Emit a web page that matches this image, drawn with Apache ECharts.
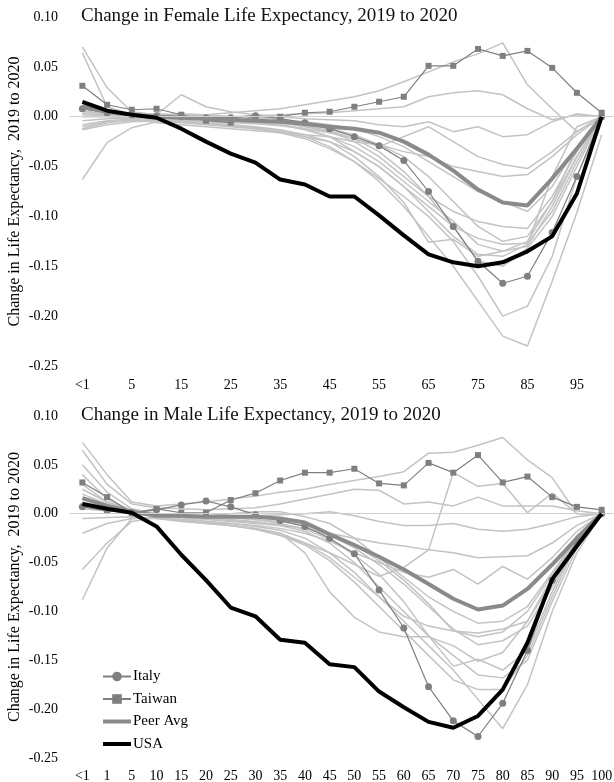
<!DOCTYPE html>
<html><head><meta charset="utf-8">
<script src="https://cdn.jsdelivr.net/npm/echarts@6/dist/echarts.min.js"></script>
<style>html,body{margin:0;padding:0;background:#fff}#c{width:614px;height:782px}</style>
</head><body><div id="c"></div>
<script>
const ageGroups = ['<1','1','5','10','15','20','25','30','35','40','45','50','55','60','65','70','75','80','85','90','95','100'];
const femaleTitle = 'Change in Female Life Expectancy, 2019 to 2020';
const maleTitle = 'Change in Male Life Expectancy, 2019 to 2020';
const yAxisName = 'Change in Life Expectancy,  2019 to 2020';

// Female
const femaleUSA    = [0.015,0.006,0.002,-0.001,-0.012,-0.025,-0.037,-0.046,-0.063,-0.068,-0.080,-0.080,-0.099,-0.119,-0.138,-0.146,-0.150,-0.146,-0.135,-0.120,-0.077,0.000];
const femalePeer   = [0.010,0.005,0.002,0.000,-0.001,-0.002,-0.003,-0.004,-0.005,-0.007,-0.010,-0.012,-0.016,-0.025,-0.038,-0.054,-0.073,-0.086,-0.089,-0.062,-0.032,0.000];
const femaleTaiwan = [0.031,0.012,0.007,0.008,0.002,-0.004,-0.006,0.000,0.000,0.004,0.005,0.010,0.015,0.020,0.051,0.051,0.068,0.061,0.066,0.049,0.024,0.004];
const femaleItaly  = [0.008,0.004,0.002,0.001,0.000,-0.001,-0.001,0.001,-0.002,-0.006,-0.012,-0.020,-0.029,-0.044,-0.075,-0.110,-0.145,-0.167,-0.160,-0.116,-0.060,0.000];
const femaleOthers = [
  [0.070,0.029,0.005,0.002,0.000,0.002,0.004,0.006,0.008,0.012,0.016,0.020,0.026,0.035,0.045,0.055,0.063,0.074,0.032,0.008,-0.015,0.000],
  [0.064,0.010,0.002,0.001,0.003,0.002,0.000,0.001,0.002,0.003,0.004,0.006,0.008,0.010,0.020,0.024,0.026,0.022,0.008,-0.003,0.002,0.000],
  [0.012,0.006,0.003,0.002,0.022,0.010,0.005,0.002,0.000,-0.002,-0.003,-0.004,-0.008,-0.010,-0.005,-0.015,-0.010,-0.020,-0.018,-0.005,0.003,0.000],
  [-0.008,-0.004,-0.002,-0.001,-0.003,-0.005,-0.006,-0.007,-0.009,-0.012,-0.016,-0.022,-0.030,-0.020,-0.010,-0.025,-0.040,-0.048,-0.052,-0.035,-0.015,0.000],
  [0.005,0.003,0.000,-0.004,-0.006,-0.008,-0.010,-0.012,-0.015,-0.018,-0.020,-0.025,-0.028,-0.035,-0.040,-0.050,-0.055,-0.060,-0.058,-0.040,-0.018,0.000],
  [0.002,0.001,0.000,-0.002,0.000,-0.002,-0.004,-0.004,-0.006,-0.010,-0.015,-0.025,-0.040,-0.060,-0.080,-0.095,-0.105,-0.110,-0.112,-0.080,-0.035,0.000],
  [-0.012,-0.006,-0.003,0.000,-0.002,-0.003,-0.005,-0.006,-0.008,-0.012,-0.020,-0.035,-0.050,-0.070,-0.090,-0.110,-0.122,-0.128,-0.127,-0.095,-0.045,0.000],
  [-0.010,-0.005,-0.004,-0.003,-0.004,-0.006,-0.008,-0.010,-0.013,-0.018,-0.025,-0.040,-0.060,-0.086,-0.126,-0.123,-0.140,-0.135,-0.130,-0.090,-0.040,0.000],
  [0.003,0.002,0.001,0.000,-0.001,-0.002,-0.003,-0.005,-0.008,-0.013,-0.020,-0.030,-0.045,-0.065,-0.085,-0.105,-0.128,-0.135,-0.125,-0.085,-0.030,0.000],
  [0.008,0.004,0.002,0.001,0.001,-0.001,-0.002,-0.004,-0.006,-0.009,-0.014,-0.022,-0.035,-0.055,-0.080,-0.110,-0.145,-0.150,-0.132,-0.100,-0.050,0.000],
  [-0.013,-0.008,-0.005,-0.004,-0.005,-0.007,-0.009,-0.012,-0.016,-0.022,-0.032,-0.045,-0.062,-0.080,-0.100,-0.125,-0.160,-0.200,-0.190,-0.140,-0.060,0.000],
  [-0.063,-0.026,-0.011,-0.005,-0.005,-0.007,-0.009,-0.011,-0.014,-0.020,-0.030,-0.045,-0.065,-0.090,-0.120,-0.150,-0.185,-0.220,-0.230,-0.165,-0.096,-0.018],
  [0.000,0.000,-0.002,-0.006,-0.008,-0.010,-0.012,-0.014,-0.016,-0.020,-0.025,-0.035,-0.050,-0.070,-0.095,-0.120,-0.138,-0.140,-0.128,-0.060,-0.010,0.000],
  [0.006,0.003,0.002,0.000,-0.002,-0.001,0.000,-0.001,-0.003,-0.005,-0.008,-0.012,-0.020,-0.030,-0.045,-0.060,-0.075,-0.085,-0.095,-0.070,-0.030,0.000],
  [-0.004,-0.002,-0.001,0.003,0.002,0.001,0.000,-0.002,-0.004,-0.008,-0.012,-0.018,-0.028,-0.040,-0.060,-0.085,-0.110,-0.125,-0.120,-0.085,-0.040,0.000]
];

// Male
const maleUSA    = [0.010,0.005,0.001,-0.013,-0.042,-0.068,-0.096,-0.105,-0.129,-0.132,-0.154,-0.157,-0.182,-0.198,-0.213,-0.219,-0.207,-0.180,-0.132,-0.067,-0.033,0.000];
const malePeer   = [0.016,0.008,0.002,-0.002,-0.002,-0.003,-0.003,-0.003,-0.005,-0.009,-0.021,-0.032,-0.044,-0.057,-0.072,-0.087,-0.098,-0.094,-0.077,-0.052,-0.025,0.000];
const maleTaiwan = [0.032,0.017,0.001,0.005,0.001,0.001,0.014,0.021,0.034,0.042,0.042,0.046,0.031,0.029,0.052,0.042,0.060,0.032,0.038,0.017,0.007,0.004];
const maleItaly  = [0.007,0.003,0.001,0.004,0.009,0.013,0.007,-0.001,-0.007,-0.013,-0.025,-0.041,-0.078,-0.117,-0.177,-0.212,-0.228,-0.194,-0.140,-0.068,-0.028,0.000];
const maleOthers = [
  [0.073,0.040,0.012,0.008,0.010,0.012,0.015,0.018,0.022,0.025,0.030,0.034,0.038,0.043,0.062,0.063,0.070,0.078,0.055,0.037,0.000,0.000],
  [0.065,0.030,0.010,0.006,0.005,0.004,0.005,0.006,0.010,0.015,0.020,0.025,0.024,0.010,0.012,0.008,0.017,0.008,0.008,0.008,0.003,0.000],
  [0.050,0.022,0.005,0.000,-0.004,-0.008,-0.012,-0.016,-0.022,-0.030,-0.040,-0.052,-0.064,-0.055,-0.037,0.042,0.028,0.031,0.001,0.021,0.000,0.000],
  [0.040,0.015,0.003,0.000,-0.002,-0.004,-0.003,-0.002,-0.001,0.000,0.002,-0.002,-0.008,-0.012,-0.012,-0.010,-0.016,-0.018,-0.016,-0.010,-0.003,0.000],
  [0.030,0.012,0.002,-0.002,-0.004,-0.006,-0.008,-0.010,-0.012,-0.015,-0.020,-0.025,-0.030,-0.033,-0.037,-0.040,-0.045,-0.044,-0.043,-0.030,-0.012,0.000],
  [0.020,0.010,0.002,-0.003,-0.006,-0.008,-0.010,-0.012,-0.015,-0.020,-0.028,-0.040,-0.050,-0.060,-0.065,-0.057,-0.072,-0.054,-0.067,-0.045,-0.018,0.000],
  [0.015,0.008,0.003,0.000,-0.002,-0.002,0.000,0.002,0.002,-0.003,-0.010,-0.025,-0.045,-0.065,-0.085,-0.100,-0.112,-0.110,-0.095,-0.060,-0.025,0.000],
  [-0.005,-0.004,-0.003,-0.005,-0.007,-0.010,-0.012,-0.015,-0.020,-0.030,-0.045,-0.065,-0.085,-0.105,-0.115,-0.120,-0.122,-0.118,-0.110,-0.070,-0.030,0.000],
  [-0.020,-0.010,-0.005,-0.005,-0.008,-0.010,-0.012,-0.015,-0.020,-0.040,-0.080,-0.106,-0.121,-0.126,-0.126,-0.135,-0.151,-0.142,-0.110,-0.065,-0.025,0.000],
  [0.010,0.005,0.002,-0.001,-0.002,-0.004,-0.006,-0.008,-0.012,-0.018,-0.030,-0.050,-0.075,-0.100,-0.125,-0.145,-0.165,-0.168,-0.150,-0.090,-0.035,0.000],
  [-0.057,-0.030,-0.008,-0.004,-0.006,-0.008,-0.010,-0.013,-0.017,-0.025,-0.040,-0.060,-0.085,-0.110,-0.135,-0.160,-0.190,-0.220,-0.175,-0.100,-0.040,0.000],
  [-0.088,-0.035,-0.005,-0.004,-0.006,-0.009,-0.012,-0.016,-0.022,-0.032,-0.048,-0.070,-0.095,-0.120,-0.145,-0.170,-0.180,-0.180,-0.145,-0.085,-0.030,0.000],
  [0.025,0.012,0.004,0.000,-0.003,-0.005,-0.007,-0.009,-0.011,-0.015,-0.022,-0.035,-0.052,-0.072,-0.095,-0.118,-0.134,-0.130,-0.115,-0.075,-0.030,0.000],
  [0.005,0.003,0.001,-0.002,-0.003,-0.003,-0.004,-0.006,-0.008,-0.012,-0.020,-0.032,-0.048,-0.068,-0.092,-0.120,-0.126,-0.121,-0.100,-0.062,-0.022,0.000],
  [0.012,0.006,0.002,-0.001,-0.001,-0.002,-0.004,-0.006,-0.010,-0.016,-0.026,-0.042,-0.062,-0.090,-0.125,-0.156,-0.149,-0.160,-0.140,-0.080,-0.028,0.000]
];

const FONT = '"Liberation Serif", "Times New Roman", serif';
const LIGHT = '#c3c3c3';
const MID = '#7f7f7f';
const AVG = '#8a8a8a';

function xAxisFor(gi, interval, margin) {
  return {
    type: 'category', gridIndex: gi, data: ageGroups, boundaryGap: true,
    axisLine: {show: false}, axisTick: {show: false}, splitLine: {show: false},
    axisLabel: {interval: interval, margin: margin, color: '#000', fontFamily: FONT, fontSize: 14, hideOverlap: false}
  };
}
function yAxisFor(gi) {
  return {
    type: 'value', gridIndex: gi, min: -0.25, max: 0.10, interval: 0.05,
    axisLine: {show: false}, axisTick: {show: false}, splitLine: {show: false},
    axisLabel: {margin: 12, color: '#000', fontFamily: FONT, fontSize: 14,
      formatter: v => (Math.abs(v) < 1e-9 ? 0 : v).toFixed(2)},
    name: yAxisName, nameLocation: 'middle', nameRotate: 90, nameGap: 47, nameMoveOverlap: false,
    nameTextStyle: {color: '#000', fontFamily: FONT, fontSize: 16}
  };
}

const series = [];
function addPanel(gi, others, italy, taiwan, peer, usa) {
  others.forEach((d, k) => {
    const s = {
      type: 'line', name: 'peer' + gi + '_' + k, xAxisIndex: gi, yAxisIndex: gi, data: d,
      showSymbol: false, symbol: 'none', silent: true, z: 1,
      lineStyle: {color: LIGHT, width: 1.5}
    };
    if (k === 0) {
      s.markLine = {silent: true, symbol: 'none', label: {show: false},
        lineStyle: {color: '#cfcfcf', width: 1, type: 'solid'}, data: [{yAxis: 0}]};
    }
    series.push(s);
  });
  series.push({type: 'line', name: 'Italy', xAxisIndex: gi, yAxisIndex: gi, data: italy,
    symbol: 'circle', symbolSize: 7, z: 3,
    itemStyle: {color: MID}, lineStyle: {color: MID, width: 1.2}});
  series.push({type: 'line', name: 'Taiwan', xAxisIndex: gi, yAxisIndex: gi, data: taiwan,
    symbol: 'rect', symbolSize: 6, z: 3,
    itemStyle: {color: MID}, lineStyle: {color: MID, width: 1.2}});
  series.push({type: 'line', name: 'Peer Avg', xAxisIndex: gi, yAxisIndex: gi, data: peer,
    symbol: 'none', z: 4, itemStyle: {color: AVG}, lineStyle: {color: AVG, width: 4}});
  series.push({type: 'line', name: 'USA', xAxisIndex: gi, yAxisIndex: gi, data: usa,
    symbol: 'none', z: 5, itemStyle: {color: '#000'}, lineStyle: {color: '#000', width: 4}});
}
addPanel(0, femaleOthers, femaleItaly, femaleTaiwan, femalePeer, femaleUSA);
addPanel(1, maleOthers, maleItaly, maleTaiwan, malePeer, maleUSA);

const barIcon = 'path://M0,0 L28,0 L28,4 L0,4 Z';
const chart = echarts.init(document.getElementById('c'), null, {renderer: 'canvas'});
chart.setOption({
  animation: false,
  backgroundColor: '#fff',
  title: [
    {text: femaleTitle, left: 81, top: 7, padding: 0, textStyle: {fontFamily: FONT, fontSize: 19, fontWeight: 'normal', color: '#111'}},
    {text: maleTitle, left: 81, top: 406, padding: 0, textStyle: {fontFamily: FONT, fontSize: 19, fontWeight: 'normal', color: '#111'}}
  ],
  grid: [
    {left: 70, right: 0, top: 17, height: 349, outerBoundsMode: 'none', containLabel: false},
    {left: 70, right: 0, top: 416, height: 342, outerBoundsMode: 'none', containLabel: false}
  ],
  xAxis: [xAxisFor(0, 1, 12), xAxisFor(1, 0, 11)],
  yAxis: [yAxisFor(0), yAxisFor(1)],
  legend: {
    data: [
      {name: 'Italy'},
      {name: 'Taiwan', itemStyle: {color: MID}},
      {name: 'Peer Avg', icon: barIcon},
      {name: 'USA', icon: barIcon}
    ],
    orient: 'vertical', left: 102, top: 669, itemWidth: 28, itemHeight: 12, itemGap: 7.5,
    padding: 0, selectedMode: false, symbolKeepAspect: true,
    textStyle: {fontFamily: FONT, fontSize: 15, color: '#000', padding: [0, 0, 0, -3]}
  },
  series: series
});
</script>
</body></html>
